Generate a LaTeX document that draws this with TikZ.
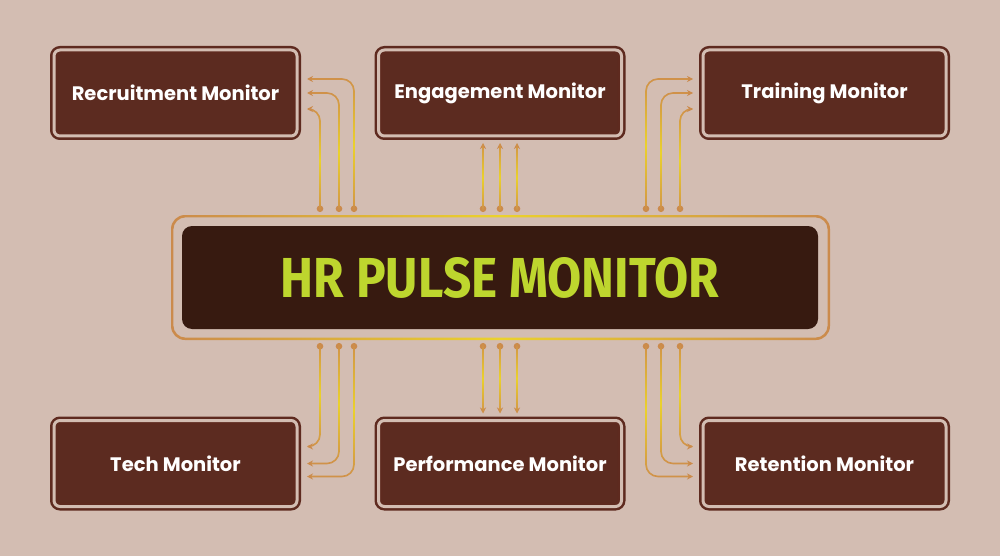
\documentclass[tikz,border=0pt]{standalone}
\usepackage{fontspec}
\setmainfont{Poppins}
\newfontfamily\titlefont{Fira Sans}
\usetikzlibrary{arrows.meta,calc,fadings}
\definecolor{bgc}{HTML}{D3BDB2}
\definecolor{boxfill}{HTML}{5C2B20}
\definecolor{boxline}{HTML}{5E2A1F}
\definecolor{hrfill}{HTML}{371A10}
\definecolor{titlec}{HTML}{BED62E}
\definecolor{tan}{HTML}{CB8A4C}
\definecolor{gold}{HTML}{EBD22C}
\definecolor{linec}{HTML}{D0914A}
\tikzfading[name=midfade, top color=transparent!100, bottom color=transparent!100,
  middle color=transparent!0]
\tikzset{
  mbox/.style={rectangle, rounded corners=6pt, fill=boxfill, draw=boxline,
    line width=2.5pt, double=bgc, double distance=3pt,
    minimum width=243pt, minimum height=86pt, inner sep=0pt, outer sep=0pt,
    text=white, font=\bfseries\fontsize{19.5}{22}\selectfont},
  conn/.style={draw=linec, line width=1.6pt, rounded corners=12pt,
    arrows={Circle[length=6.5pt,width=6.5pt,color=tan,fill=tan]-Stealth[length=6pt,width=6pt,color=tan]},
    postaction={draw=gold, arrows=-, path fading=midfade}},
}
\begin{document}
\begin{tikzpicture}[x=1pt,y=-1pt]
\fill[bgc] (0,0) rectangle (1000,556);
\useasboundingbox (0,0) rectangle (1000,556);
% boxes
\node[mbox] (tl) at (175.5,93) {Recruitment Monitor};
\node[mbox] (tm) at (500,93) {Engagement Monitor};
\node[mbox] (tr) at (824.5,93) {Training Monitor};
\node[mbox] (bl) at (175.5,463.5) {Tech Monitor};
\node[mbox] (bm) at (500,463.5) {Performance Monitor};
\node[mbox] (br) at (824.5,463.5) {Retention Monitor};
% central frame
\shade[left color=tan, right color=tan, middle color=gold, even odd rule]
  (171,215) [rounded corners=14pt] rectangle (830,340)
  (173.4,217.4) [rounded corners=12pt] rectangle (827.6,337.6);
\node[rectangle, rounded corners=10pt, fill=hrfill, minimum width=636pt,
  minimum height=103pt, inner sep=0pt, outer sep=0pt] (hr) at (500,277.5) {};
\node[text=titlec] (title) at (hr.center)
  {\titlefont\bfseries\resizebox{438pt}{40pt}{HR PULSE MONITOR}};
% top-left connectors
\draw[conn] ([shift={(-146,-14)}]hr.north) |- ([shift={(10,-14)}]tl.east);
\draw[conn] ([shift={(-161,-14)}]hr.north) |- ([shift={(10,0)}]tl.east);
\draw[conn] ([shift={(-180,-14)}]hr.north) |- ([shift={(10,16)}]tl.east);
% top-middle
\draw[conn] ([shift={(-17,-14)}]hr.north) -- ([shift={(-17,7)}]tm.south);
\draw[conn] ([shift={(0,-14)}]hr.north) -- ([shift={(0,7)}]tm.south);
\draw[conn] ([shift={(17,-14)}]hr.north) -- ([shift={(17,7)}]tm.south);
% top-right
\draw[conn] ([shift={(146,-14)}]hr.north) |- ([shift={(-10,-14)}]tr.west);
\draw[conn] ([shift={(161,-14)}]hr.north) |- ([shift={(-10,0)}]tr.west);
\draw[conn] ([shift={(180,-14)}]hr.north) |- ([shift={(-10,16)}]tr.west);
% bottom-left
\draw[conn] ([shift={(-146,14)}]hr.south) |- ([shift={(10,13)}]bl.east);
\draw[conn] ([shift={(-161,14)}]hr.south) |- ([shift={(10,0)}]bl.east);
\draw[conn] ([shift={(-180,14)}]hr.south) |- ([shift={(10,-17)}]bl.east);
% bottom-middle
\draw[conn] ([shift={(-17,14)}]hr.south) -- ([shift={(-17,-7)}]bm.north);
\draw[conn] ([shift={(0,14)}]hr.south) -- ([shift={(0,-7)}]bm.north);
\draw[conn] ([shift={(17,14)}]hr.south) -- ([shift={(17,-7)}]bm.north);
% bottom-right
\draw[conn] ([shift={(146,14)}]hr.south) |- ([shift={(-10,13)}]br.west);
\draw[conn] ([shift={(161,14)}]hr.south) |- ([shift={(-10,0)}]br.west);
\draw[conn] ([shift={(180,14)}]hr.south) |- ([shift={(-10,-17)}]br.west);
\end{tikzpicture}
\end{document}
